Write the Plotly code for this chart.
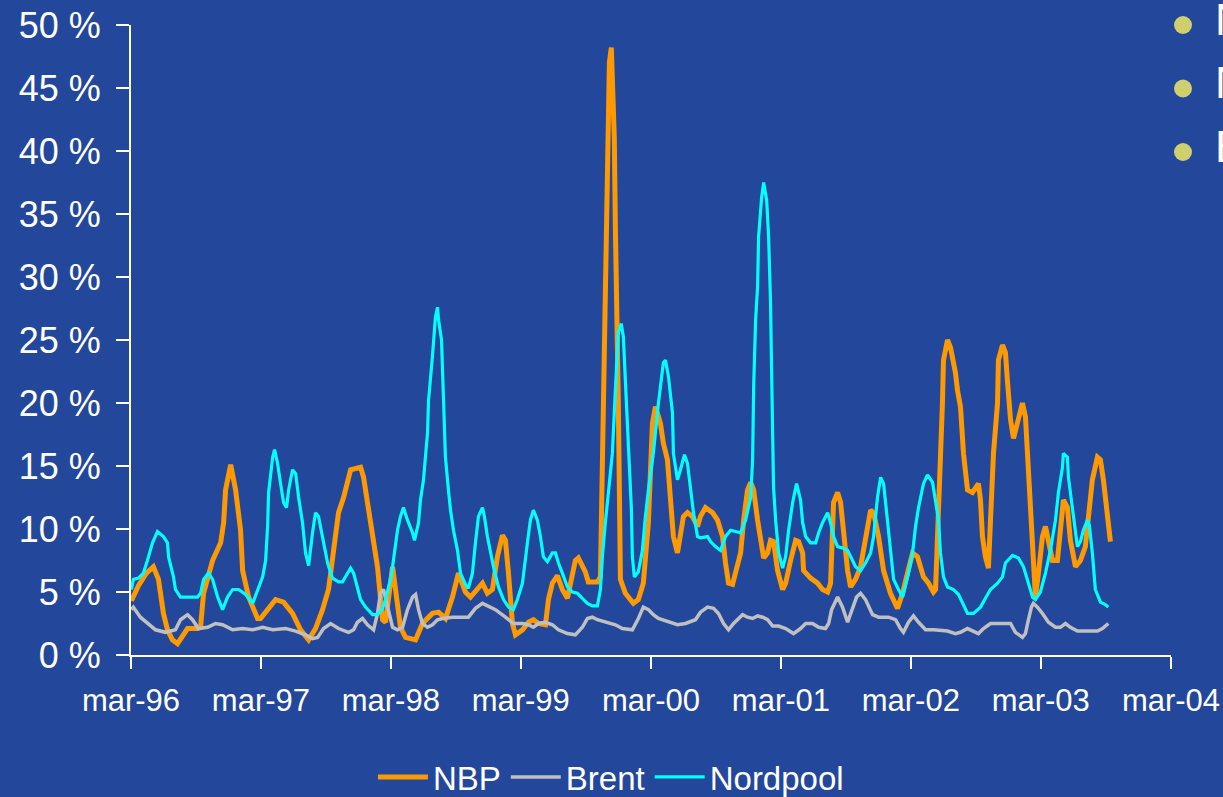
import pandas as pd
import plotly.graph_objects as go

# ---- data (decimal years, percent) ----
nbp_t = [1996.167, 1996.221, 1996.282, 1996.336, 1996.375, 1996.413, 1996.444, 1996.482, 1996.521, 1996.598,
         1996.675, 1996.698, 1996.721, 1996.790, 1996.852, 1996.875, 1996.890, 1996.929, 1996.967, 1997.005,
         1997.021, 1997.067, 1997.136, 1997.159, 1997.221, 1997.275, 1997.336, 1997.405, 1997.467, 1997.529,
         1997.582, 1997.636, 1997.682, 1997.721, 1997.759, 1997.798, 1997.852, 1997.929, 1997.952, 1997.982,
         1998.021, 1998.059, 1998.098, 1998.121, 1998.175, 1998.198, 1998.236, 1998.275, 1998.352, 1998.405,
         1998.482, 1998.529, 1998.582, 1998.636, 1998.682, 1998.736, 1998.775, 1998.867, 1998.905, 1998.944,
         1998.982, 1999.021, 1999.044, 1999.067, 1999.098, 1999.121, 1999.175, 1999.221, 1999.259, 1999.298,
         1999.352, 1999.375, 1999.405, 1999.444, 1999.482, 1999.521, 1999.544, 1999.582, 1999.605, 1999.659,
         1999.682, 1999.752, 1999.775, 1999.790, 1999.805, 1999.821, 1999.829, 1999.844, 1999.859, 1999.875,
         1999.882, 1999.890, 1999.905, 1999.913, 1999.929, 1999.967, 2000.029, 2000.067, 2000.105, 2000.144,
         2000.175, 2000.198, 2000.236, 2000.259, 2000.290, 2000.313, 2000.336, 2000.367, 2000.390, 2000.413,
         2000.444, 2000.482, 2000.521, 2000.544, 2000.582, 2000.636, 2000.675, 2000.713, 2000.736, 2000.759,
         2000.790, 2000.813, 2000.852, 2000.875, 2000.905, 2000.929, 2000.952, 2000.982, 2001.005, 2001.029,
         2001.059, 2001.082, 2001.105, 2001.136, 2001.175, 2001.198, 2001.236, 2001.275, 2001.298, 2001.329,
         2001.336, 2001.390, 2001.444, 2001.482, 2001.521, 2001.544, 2001.567, 2001.598, 2001.621, 2001.644,
         2001.675, 2001.698, 2001.736, 2001.775, 2001.813, 2001.852, 2001.875, 2001.913, 2001.952, 2002.005,
         2002.059, 2002.098, 2002.136, 2002.175, 2002.213, 2002.259, 2002.298, 2002.336, 2002.352, 2002.375,
         2002.390, 2002.405, 2002.413, 2002.444, 2002.467, 2002.505, 2002.521, 2002.544, 2002.567, 2002.598,
         2002.636, 2002.682, 2002.698, 2002.713, 2002.736, 2002.759, 2002.775, 2002.798, 2002.829, 2002.836,
         2002.867, 2002.890, 2002.905, 2002.929, 2002.952, 2002.982, 2003.021, 2003.044, 2003.059, 2003.082,
         2003.105, 2003.121, 2003.144, 2003.175, 2003.198, 2003.221, 2003.252, 2003.290, 2003.313, 2003.336,
         2003.367, 2003.390, 2003.429, 2003.467, 2003.505, 2003.529, 2003.559, 2003.598, 2003.621, 2003.644,
         2003.675, 2003.698]
nbp_v = [4.3, 5.5, 6.5, 7.0, 6.0, 3.3, 2.0, 1.2, 0.9, 2.1,
         2.1, 2.2, 4.9, 7.5, 8.9, 10.5, 13.1, 15.1, 13.1, 9.9,
         6.7, 4.6, 2.9, 2.9, 3.7, 4.4, 4.2, 3.3, 2.0, 1.2,
         2.1, 3.6, 5.2, 8.1, 11.3, 12.5, 14.7, 14.9, 14.1, 12.1,
         9.7, 7.0, 2.8, 2.6, 7.0, 5.2, 2.2, 1.4, 1.2, 2.5,
         3.3, 3.4, 2.9, 4.6, 6.5, 5.0, 4.6, 5.7, 4.9, 5.2,
         7.8, 9.5, 9.1, 6.5, 2.5, 1.6, 2.0, 2.6, 2.8, 2.5,
         2.4, 4.4, 5.7, 6.3, 5.2, 4.5, 5.7, 7.5, 7.7, 6.6,
         5.8, 5.8, 6.2, 15.7, 26.0, 34.0, 40.0, 47.0, 48.2, 44.0,
         41.0, 34.0, 26.0, 20.0, 6.0, 4.9, 4.1, 4.4, 5.7, 10.5,
         18.4, 19.7, 18.4, 16.8, 15.5, 12.1, 9.4, 8.1, 9.7, 11.0,
         11.3, 11.0, 10.2, 11.0, 11.7, 11.3, 10.7, 9.4, 7.3, 5.7,
         5.6, 6.7, 8.1, 10.7, 13.1, 13.7, 13.1, 10.7, 8.9, 7.7,
         8.1, 9.1, 9.0, 6.7, 5.2, 5.7, 7.5, 9.1, 9.0, 8.1,
         6.7, 6.1, 5.7, 5.2, 5.0, 5.7, 12.1, 12.9, 12.1, 9.4,
         6.7, 5.4, 6.0, 7.0, 9.4, 11.5, 11.3, 9.4, 6.7, 4.9,
         3.7, 4.9, 6.5, 8.1, 7.8, 6.2, 5.7, 5.0, 5.2, 10.7,
         16.0, 20.0, 23.4, 25.0, 24.4, 22.4, 21.0, 19.7, 16.0, 13.1,
         12.9, 13.6, 12.3, 9.4, 7.8, 6.9, 10.7, 16.0, 20.0, 23.4,
         24.6, 24.0, 21.8, 18.7, 17.2, 18.4, 20.0, 18.9, 16.0, 12.1,
         6.7, 4.6, 6.5, 9.4, 10.2, 9.1, 7.5, 7.5, 10.2, 12.3,
         11.7, 9.1, 7.0, 7.5, 8.6, 10.7, 13.9, 15.7, 15.5, 13.9,
         10.7, 9.0]

brent_t = [1996.167, 1996.182, 1996.236, 1996.290, 1996.352, 1996.429, 1996.505, 1996.544, 1996.598, 1996.636,
           1996.682, 1996.752, 1996.813, 1996.867, 1996.944, 1997.021, 1997.098, 1997.175, 1997.252, 1997.352,
           1997.429, 1997.505, 1997.559, 1997.598, 1997.644, 1997.698, 1997.759, 1997.836, 1997.875, 1997.905,
           1997.944, 1997.982, 1998.029, 1998.059, 1998.082, 1998.105, 1998.144, 1998.175, 1998.213, 1998.252,
           1998.290, 1998.329, 1998.352, 1998.375, 1998.405, 1998.444, 1998.482, 1998.521, 1998.559, 1998.636,
           1998.759, 1998.813, 1998.867, 1998.913, 1998.967, 1999.044, 1999.105, 1999.175, 1999.221, 1999.259,
           1999.298, 1999.352, 1999.405, 1999.452, 1999.521, 1999.582, 1999.636, 1999.675, 1999.713, 1999.752,
           1999.813, 1999.890, 1999.944, 2000.021, 2000.067, 2000.105, 2000.144, 2000.182, 2000.221, 2000.298,
           2000.367, 2000.429, 2000.505, 2000.544, 2000.598, 2000.644, 2000.682, 2000.721, 2000.759, 2000.798,
           2000.836, 2000.867, 2000.905, 2000.944, 2000.982, 2001.021, 2001.059, 2001.098, 2001.144, 2001.198,
           2001.259, 2001.313, 2001.352, 2001.405, 2001.452, 2001.505, 2001.529, 2001.552, 2001.598, 2001.636,
           2001.675, 2001.713, 2001.744, 2001.775, 2001.813, 2001.867, 2001.913, 2001.990, 2002.044, 2002.082,
           2002.105, 2002.144, 2002.182, 2002.221, 2002.275, 2002.336, 2002.444, 2002.505, 2002.544, 2002.598,
           2002.636, 2002.682, 2002.721, 2002.775, 2002.929, 2002.967, 2003.021, 2003.044, 2003.067, 2003.090,
           2003.105, 2003.136, 2003.175, 2003.221, 2003.275, 2003.313, 2003.352, 2003.390, 2003.444, 2003.598,
           2003.636, 2003.682]
brent_v = [3.6, 3.8, 3.0, 2.5, 2.0, 1.8, 2.0, 2.8, 3.2, 2.8,
           2.1, 2.2, 2.5, 2.4, 2.0, 2.1, 2.0, 2.2, 2.0, 2.1,
           1.9, 1.6, 1.3, 1.4, 2.1, 2.5, 2.1, 1.8, 2.0, 2.6,
           2.9, 2.4, 2.0, 3.3, 4.9, 5.2, 3.6, 2.2, 2.0, 2.2,
           3.6, 4.6, 4.8, 3.6, 2.5, 2.2, 2.4, 2.8, 2.9, 3.0,
           3.0, 3.7, 4.1, 3.9, 3.6, 3.0, 2.5, 2.5, 2.4, 2.2,
           2.5, 2.6, 2.4, 2.0, 1.7, 1.6, 2.2, 2.9, 3.0, 2.8,
           2.6, 2.4, 2.1, 2.0, 2.9, 3.8, 3.6, 3.2, 2.9, 2.6,
           2.4, 2.5, 2.8, 3.4, 3.8, 3.7, 3.3, 2.5, 2.0, 2.5,
           2.9, 3.2, 3.0, 2.9, 3.1, 3.0, 2.8, 2.3, 2.3, 2.1,
           1.7, 2.1, 2.5, 2.5, 2.2, 2.1, 2.5, 3.6, 4.6, 3.8,
           2.6, 3.8, 4.6, 4.9, 4.4, 3.2, 3.0, 3.0, 2.8, 2.1,
           1.8, 2.6, 3.1, 2.6, 2.0, 2.0, 1.9, 1.7, 1.8, 2.1,
           1.9, 1.7, 2.1, 2.5, 2.5, 1.8, 1.4, 1.7, 2.8, 3.8,
           4.1, 3.8, 3.3, 2.6, 2.2, 2.2, 2.5, 2.2, 1.9, 1.9,
           2.1, 2.5]

nord_t = [1996.167, 1996.182, 1996.221, 1996.259, 1996.290, 1996.329, 1996.367, 1996.413, 1996.444, 1996.452,
          1996.490, 1996.505, 1996.544, 1996.675, 1996.698, 1996.721, 1996.759, 1996.790, 1996.829, 1996.867,
          1996.905, 1996.944, 1996.990, 1997.044, 1997.098, 1997.136, 1997.175, 1997.198, 1997.213, 1997.221,
          1997.252, 1997.267, 1997.290, 1997.313, 1997.336, 1997.359, 1997.375, 1997.405, 1997.429, 1997.452,
          1997.482, 1997.505, 1997.529, 1997.559, 1997.582, 1997.605, 1997.636, 1997.675, 1997.713, 1997.759,
          1997.790, 1997.829, 1997.852, 1997.875, 1997.905, 1997.929, 1997.967, 1998.021, 1998.059, 1998.098,
          1998.121, 1998.159, 1998.175, 1998.213, 1998.236, 1998.259, 1998.290, 1998.329, 1998.344, 1998.375,
          1998.390, 1998.413, 1998.444, 1998.452, 1998.482, 1998.505, 1998.521, 1998.529, 1998.552, 1998.567,
          1998.582, 1998.605, 1998.621, 1998.644, 1998.675, 1998.698, 1998.736, 1998.759, 1998.790, 1998.813,
          1998.836, 1998.867, 1998.882, 1998.905, 1998.929, 1998.952, 1998.990, 1999.029, 1999.067, 1999.105,
          1999.136, 1999.175, 1999.213, 1999.236, 1999.259, 1999.290, 1999.313, 1999.336, 1999.367, 1999.405,
          1999.429, 1999.452, 1999.482, 1999.521, 1999.559, 1999.598, 1999.636, 1999.675, 1999.713, 1999.752,
          1999.775, 1999.790, 1999.813, 1999.836, 1999.867, 1999.890, 1999.913, 1999.936, 1999.952, 1999.967,
          1999.990, 2000.013, 2000.021, 2000.036, 2000.067, 2000.098, 2000.121, 2000.144, 2000.182, 2000.221,
          2000.259, 2000.275, 2000.298, 2000.329, 2000.336, 2000.367, 2000.390, 2000.421, 2000.444, 2000.467,
          2000.490, 2000.521, 2000.544, 2000.598, 2000.621, 2000.659, 2000.698, 2000.736, 2000.775, 2000.813,
          2000.852, 2000.890, 2000.929, 2000.944, 2000.952, 2000.967, 2000.982, 2000.990, 2001.013, 2001.029,
          2001.052, 2001.067, 2001.082, 2001.090, 2001.098, 2001.105, 2001.121, 2001.144, 2001.175, 2001.198,
          2001.221, 2001.252, 2001.282, 2001.313, 2001.329, 2001.352, 2001.390, 2001.429, 2001.452, 2001.482,
          2001.521, 2001.544, 2001.567, 2001.598, 2001.636, 2001.675, 2001.713, 2001.736, 2001.775, 2001.813,
          2001.852, 2001.875, 2001.905, 2001.929, 2001.952, 2001.982, 2002.005, 2002.029, 2002.067, 2002.098,
          2002.144, 2002.175, 2002.198, 2002.221, 2002.259, 2002.290, 2002.329, 2002.352, 2002.375, 2002.390,
          2002.413, 2002.444, 2002.490, 2002.529, 2002.559, 2002.598, 2002.644, 2002.698, 2002.736, 2002.775,
          2002.829, 2002.867, 2002.890, 2002.944, 2002.990, 2003.029, 2003.067, 2003.098, 2003.121, 2003.159,
          2003.198, 2003.236, 2003.275, 2003.298, 2003.329, 2003.336, 2003.367, 2003.375, 2003.405, 2003.429,
          2003.444, 2003.467, 2003.490, 2003.521, 2003.536, 2003.559, 2003.582, 2003.621, 2003.659, 2003.682]
nord_v = [5.2, 6.0, 6.1, 6.5, 7.5, 8.9, 9.8, 9.4, 8.9, 7.8,
          6.2, 5.2, 4.6, 4.6, 4.9, 6.0, 6.5, 6.0, 4.6, 3.6,
          4.6, 5.2, 5.2, 4.8, 4.1, 5.2, 6.2, 7.5, 10.2, 12.9,
          15.7, 16.3, 15.2, 13.6, 12.1, 11.7, 13.1, 14.7, 14.4, 12.5,
          10.5, 8.1, 7.1, 9.7, 11.3, 11.0, 9.4, 7.3, 6.1, 5.8,
          5.8, 6.5, 6.9, 6.5, 5.2, 4.4, 3.8, 3.2, 3.2, 3.7,
          4.4, 6.0, 7.0, 9.9, 11.0, 11.7, 10.7, 9.7, 9.1, 10.5,
          12.3, 13.9, 17.6, 20.2, 23.7, 26.8, 27.6, 26.6, 25.0, 21.0,
          15.7, 13.1, 11.5, 9.9, 8.3, 6.5, 5.6, 5.3, 6.5, 8.9,
          11.0, 11.7, 11.0, 9.4, 8.1, 7.0, 5.4, 4.4, 3.8, 3.6,
          4.4, 5.7, 8.9, 10.7, 11.5, 10.7, 9.4, 7.8, 7.4, 8.1,
          8.1, 7.3, 6.5, 5.4, 5.0, 4.9, 4.5, 4.1, 3.9, 3.9,
          5.2, 7.8, 10.5, 13.1, 16.0, 21.0, 25.6, 26.3, 25.2, 21.8,
          17.1, 11.7, 7.8, 6.2, 6.6, 8.3, 11.0, 13.1, 16.0, 20.0,
          23.2, 23.4, 22.1, 19.2, 16.0, 13.9, 14.7, 15.9, 15.2, 13.3,
          11.3, 9.4, 9.3, 9.4, 9.0, 8.6, 8.3, 9.4, 9.9, 9.8,
          9.7, 10.7, 12.5, 15.5, 21.3, 26.6, 29.2, 33.2, 36.3, 37.5,
          36.1, 33.2, 27.9, 22.6, 16.5, 13.3, 10.7, 8.1, 6.9, 7.8,
          9.9, 12.1, 13.6, 12.3, 10.5, 9.4, 8.9, 8.9, 9.7, 10.5,
          11.3, 10.5, 9.4, 8.6, 8.5, 8.3, 7.5, 7.0, 6.7, 7.3,
          8.1, 9.4, 12.5, 14.1, 13.6, 10.7, 8.1, 6.0, 5.2, 4.6,
          6.5, 8.1, 10.2, 11.7, 13.6, 14.3, 13.7, 12.1, 10.7, 8.1,
          6.2, 5.4, 5.2, 4.8, 4.1, 3.3, 3.3, 3.8, 4.5, 5.2,
          5.7, 6.2, 7.3, 7.9, 7.7, 7.0, 5.7, 4.6, 4.4, 5.0,
          6.5, 8.3, 10.7, 12.9, 14.9, 16.0, 15.7, 14.1, 11.7, 9.7,
          8.6, 9.0, 9.9, 10.7, 10.3, 8.1, 5.2, 4.2, 4.0, 3.8]

tick_dates = ["1996-03-01", "1997-03-01", "1998-03-01", "1999-03-01", "2000-03-01",
              "2001-03-01", "2002-03-01", "2003-03-01", "2004-03-01"]
tick_labels = ["mar-96", "mar-97", "mar-98", "mar-99", "mar-00", "mar-01", "mar-02", "mar-03", "mar-04"]
y_ticks = [0, 5, 10, 15, 20, 25, 30, 35, 40, 45, 50]
y_labels = ["0 %", "5 %", "10 %", "15 %", "20 %", "25 %", "30 %", "35 %", "40 %", "45 %", "50 %"]
side_items = ["NBP", "Nordpool", "Brent"]


def to_date(t):
    y = int(t)
    start = pd.Timestamp(year=y, month=1, day=1)
    end = pd.Timestamp(year=y + 1, month=1, day=1)
    return start + (end - start) * (t - y)


BG = "#23479B"
FONT = "Liberation Sans, Arial, Helvetica, sans-serif"

fig = go.Figure()
fig.add_trace(go.Scatter(x=[to_date(t) for t in nbp_t], y=nbp_v, name="NBP", mode="lines",
                         line=dict(color="#FF9900", width=5)))
fig.add_trace(go.Scatter(x=[to_date(t) for t in brent_t], y=brent_v, name="Brent", mode="lines",
                         line=dict(color="#C0C0C0", width=3.5)))
fig.add_trace(go.Scatter(x=[to_date(t) for t in nord_t], y=nord_v, name="Nordpool", mode="lines",
                         line=dict(color="#00FFFF", width=3.2)))

L, R, T, B = 131, 52, 25, 142
W, H = 1223, 797
pw, ph = W - L - R, H - T - B


def px_x(x):
    return (x - L) / pw


def px_y(y):
    return (H - B - y) / ph


shapes = []
annotations = []
for i, label in enumerate(side_items):
    cy = 25 + i * 63.5
    shapes.append(dict(type="circle", xref="paper", yref="paper",
                       xsizemode="pixel", ysizemode="pixel",
                       xanchor=px_x(1183), yanchor=px_y(cy),
                       x0=-9, x1=9, y0=-9, y1=9,
                       fillcolor="#CFCF6E", line=dict(width=0)))
    annotations.append(dict(text=label, xref="paper", yref="paper",
                            x=px_x(1213), y=px_y(cy - 6), xanchor="left", yanchor="middle",
                            showarrow=False, font=dict(family=FONT, size=44, color="white")))

fig.update_layout(
    width=W, height=H,
    margin=dict(l=L, r=R, t=T, b=B, autoexpand=False),
    paper_bgcolor=BG, plot_bgcolor=BG,
    font=dict(family=FONT, color="white"),
    showlegend=True,
    legend=dict(orientation="h", x=0.4615, xanchor="center", y=px_y(777), yanchor="middle",
                font=dict(family=FONT, size=33, color="white"), bgcolor="rgba(0,0,0,0)",
                itemwidth=50, tracegroupgap=0),
    shapes=shapes,
    annotations=annotations,
)
fig.update_xaxes(type="date", range=[tick_dates[0], tick_dates[-1]],
                 tickmode="array", tickvals=tick_dates, ticktext=tick_labels,
                 showline=True, linecolor="white", linewidth=2,
                 ticks="outside", ticklen=12, tickwidth=2, tickcolor="white",
                 showgrid=False, zeroline=False, ticklabelstandoff=5, automargin=False,
                 tickfont=dict(family=FONT, size=31, color="white"))
fig.update_yaxes(range=[0, 50], tickmode="array", tickvals=y_ticks, ticktext=y_labels,
                 showline=True, linecolor="white", linewidth=2,
                 ticks="outside", ticklen=13, tickwidth=2, tickcolor="white",
                 showgrid=False, zeroline=False, ticklabelstandoff=8, automargin=False,
                 tickfont=dict(family=FONT, size=36, color="white"))

fig.write_html("out.html", config={"displayModeBar": False},
               post_script="document.body.style.margin='0px';document.body.style.overflow='hidden';"
                           "document.body.style.background='" + BG + "';")
